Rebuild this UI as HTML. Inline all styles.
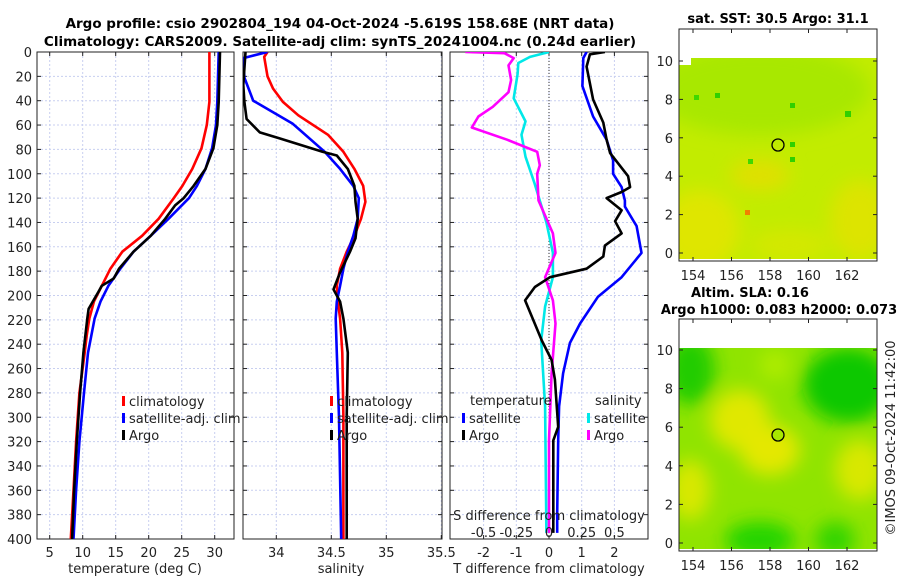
<!DOCTYPE html>
<html><head><meta charset="utf-8">
<style>
html,body{margin:0;padding:0;background:#fff;}
svg{display:block;font-family:"DejaVu Sans","Liberation Sans",sans-serif;}
</style></head>
<body>
<svg id="fig" width="900" height="580" viewBox="0 0 900 580" xmlns="http://www.w3.org/2000/svg">
<defs>
<filter id="blur1" x="-50%" y="-50%" width="200%" height="200%"><feGaussianBlur stdDeviation="9"/></filter>
<clipPath id="clipm1"><rect x="679" y="58" width="198" height="201"/></clipPath>
<clipPath id="clipm2"><rect x="679" y="348" width="198" height="201"/></clipPath>
</defs>
<text x="340" y="28" text-anchor="middle" font-size="13.5" font-weight="bold">Argo profile: csio 2902804_194 04-Oct-2024 -5.619S 158.68E (NRT data)</text>
<text x="340" y="46" text-anchor="middle" font-size="13.5" font-weight="bold">Climatology: CARS2009. Satellite-adj clim: synTS_20241004.nc (0.24d earlier)</text>
<g id="p1"></g>
<g id="p2"></g>
<g id="p3"></g>

<!-- map 1 -->
<g>
<text x="778" y="23" text-anchor="middle" font-size="13" font-weight="bold">sat. SST: 30.5 Argo: 31.1</text>
<g clip-path="url(#clipm1)">
<rect x="679" y="58" width="198" height="201" fill="#c2ec00"/>
<g filter="url(#blur1)">
<ellipse cx="760" cy="90" rx="110" ry="45" fill="#a8e800"/>
<ellipse cx="700" cy="230" rx="40" ry="40" fill="#dfe600"/>
<ellipse cx="760" cy="175" rx="30" ry="15" fill="#e0e000"/>
<ellipse cx="860" cy="220" rx="30" ry="40" fill="#dde400"/>
<ellipse cx="790" cy="245" rx="40" ry="15" fill="#d4e800"/>
</g>
<rect x="679" y="58" width="12" height="7" fill="#fff"/>
<rect x="845" y="111" width="6" height="6" fill="#30d000"/>
<rect x="790" y="103" width="5" height="5" fill="#30d000"/>
<rect x="790" y="142" width="5" height="5" fill="#30d000"/>
<rect x="790" y="157" width="5" height="5" fill="#30d000"/>
<rect x="715" y="93" width="5" height="5" fill="#30d000"/>
<rect x="694" y="95" width="5" height="5" fill="#40d800"/>
<rect x="748" y="159" width="5" height="5" fill="#40d800"/>
<rect x="745" y="210" width="5" height="5" fill="#f08000"/>
</g>
<rect x="679" y="29" width="198" height="232" fill="none" stroke="#222" stroke-width="1"/>
<circle cx="778" cy="145" r="6" fill="none" stroke="#000" stroke-width="1.3"/>
<g id="m1ticks"></g>
</g>

<!-- map 2 -->
<g>
<text x="750" y="297" text-anchor="middle" font-size="13" font-weight="bold">Altim. SLA: 0.16</text>
<text x="779" y="314" text-anchor="middle" font-size="13" font-weight="bold">Argo h1000: 0.083 h2000: 0.073</text>
<g clip-path="url(#clipm2)">
<rect x="679" y="348" width="198" height="201" fill="#90e400"/>
<g filter="url(#blur1)">
<ellipse cx="848" cy="385" rx="45" ry="38" fill="#10c800"/>
<ellipse cx="690" cy="370" rx="25" ry="35" fill="#20cc00"/>
<ellipse cx="760" cy="540" rx="35" ry="18" fill="#20d400"/>
<ellipse cx="835" cy="540" rx="20" ry="18" fill="#30d400"/>
<ellipse cx="740" cy="420" rx="30" ry="30" fill="#e0e800"/>
<ellipse cx="770" cy="450" rx="30" ry="25" fill="#e4e800"/>
<ellipse cx="860" cy="470" rx="25" ry="30" fill="#d8e800"/>
<ellipse cx="690" cy="490" rx="20" ry="30" fill="#d8e800"/>
<ellipse cx="775" cy="365" rx="15" ry="15" fill="#b0ec00"/>
</g>
</g>
<rect x="679" y="319" width="198" height="232" fill="none" stroke="#222" stroke-width="1"/>
<circle cx="778" cy="435" r="6" fill="#a8e800" stroke="#000" stroke-width="1.3"/>
<g id="m2ticks"></g>
</g>
<text transform="translate(895,438) rotate(-90)" text-anchor="middle" font-size="13" fill="#222">©IMOS 09-Oct-2024 11:42:00</text>
</svg>
<script>
// ---------- data ----------
const climTDepth = [0,41,60,79,96,110,120,137,151,164,178,192,205,219,233,247,280,320,360,400];
const tempClim   = [29.2,29.2,28.8,28.0,26.6,25.1,23.8,21.5,19.0,16.0,14.2,12.9,11.7,11.0,10.6,10.3,9.5,9.0,8.6,8.2];
const satTDepth  = [0,41,60,79,96,110,120,137,151,164,178,192,205,219,233,247,280,320,360,400];
const tempSat    = [30.6,30.4,30.2,29.6,28.6,27.3,26.1,23.0,20.3,17.7,15.7,13.9,12.7,11.8,11.3,10.8,10.2,9.5,9.0,8.6];
const argoTDepth = [0,41,60,79,96,110,120,126,137,151,164,178,186,192,197,211,219,247,280,320,360,400];
const argoTemp   = [30.8,30.6,30.4,29.8,28.6,26.8,25.3,24.0,22.5,20.3,17.7,15.5,14.7,12.9,12.4,10.9,10.7,10.1,9.6,9.1,8.7,8.4];

const climSDepth = [0,4,20,30,41,52,68,82,96,110,123,137,151,164,178,192,205,219,247,300,400];
const salClim    = [33.92,33.89,33.92,33.97,34.06,34.20,34.47,34.61,34.71,34.79,34.81,34.77,34.71,34.64,34.58,34.55,34.56,34.58,34.60,34.61,34.61];
const satSDepth  = [0,5,21,40,59,82,96,110,120,137,151,164,178,192,205,219,247,300,400];
const salSat     = [33.92,33.70,33.71,33.79,34.15,34.44,34.58,34.70,34.75,34.74,34.70,34.65,34.61,34.58,34.55,34.54,34.55,34.57,34.59];
const argoSDepth = [0,27,41,55,66,71,82,85,96,110,123,137,153,164,181,195,205,219,247,300,400];
const argoSal    = [33.72,33.70,33.71,33.73,33.85,34.03,34.42,34.55,34.65,34.71,34.72,34.74,34.72,34.67,34.58,34.52,34.58,34.61,34.65,34.64,34.64];

const dTSatDepth = [0,5,28,53,72,89,100,111,122,127,143,165,185,201,223,239,264,291,319,379,395];
const dTSat      = [1.15,1.05,1.02,1.35,1.76,1.96,1.96,2.22,2.32,2.32,2.68,2.83,2.22,1.5,0.95,0.64,0.43,0.31,0.28,0.25,0.25];
const dTArgoDepth = [0,2,12,39,58,72,83,102,111,115,120,130,139,149,159,168,178,185,193,204,237,253,269,308,319,395];
const dTArgo      = [1.71,1.25,1.15,1.35,1.66,1.76,1.87,2.42,2.48,2.22,1.76,2.22,2.02,2.22,1.71,1.66,1.15,0.03,-0.43,-0.73,-0.22,0.08,0.18,0.28,0.13,0.13];
const dSSatDepth = [0,4,9,18,38,57,68,86,108,140,165,185,209,237,291,395];
const dSSat      = [0.0,-0.145,-0.235,-0.24,-0.27,-0.18,-0.21,-0.18,-0.11,-0.02,0.03,0.03,-0.03,-0.06,-0.03,-0.02];
const dSArgoDepth = [0,1,5,11,23,33,45,53,62,72,82,93,100,122,149,165,185,204,223,264,319,395];
const dSArgo      = [-0.64,-0.34,-0.27,-0.31,-0.29,-0.31,-0.43,-0.54,-0.59,-0.32,-0.09,-0.07,-0.09,-0.08,0.03,0.05,-0.03,0.03,0.05,0.02,0.0,0.0];

const depthTicks = [0,20,40,60,80,100,120,140,160,180,200,220,240,260,280,300,320,340,360,380,400];
const tempTicks = [5,10,15,20,25,30];
const salTicks = [34,34.5,35,35.5];
const salTickLabels = ["34","34.5","35","35.5"];
const dTTicks = [-2,-1,0,1,2];
const dSTicks = [-0.5,-0.25,0,0.25,0.5];
const dSTickLabels = ["-0.5","-0.25","0","0.25","0.5"];
const mapYTicks = [0,2,4,6,8,10];
const mapXTicks = [154,156,158,160,162];

// ---------- scales ----------
const TOP=52, BOT=539;
const yD = d => TOP + d*(BOT-TOP)/400;
const xT = t => 49.7 + (t-5)*6.6;
const xS = s => 276.3 + (s-34)*110;
const xdT = t => 549 + t*32.7;
const xdS = s => 549 + s*130.8;
const mapX = lon => 693 + (lon-154)*19.25;
const m1Y = v => 253 - v*19.2;
const m2Y = v => 543 - v*19.3;

const NS="http://www.w3.org/2000/svg";
function mk(tag, attrs, parent){
  const e=document.createElementNS(NS,tag);
  for(const k in attrs) e.setAttribute(k,attrs[k]);
  parent.appendChild(e); return e;
}
function txt(parent, x, y, s, anchor, size){
  const t=mk('text',{x:x,y:y,'text-anchor':anchor||'middle','font-size':size||13,fill:'#222'},parent);
  t.textContent=s; return t;
}

function panel(g, L, R, xTickVals, xfun, yLabels){
  xTickVals.forEach(v=>{
    const l=mk('line',{x1:xfun(v),x2:xfun(v),y1:TOP,y2:BOT,stroke:'#c8cff0','stroke-width':1,'stroke-dasharray':'2,2'},g);
    
    
  });
  depthTicks.forEach(d=>{
    const l=mk('line',{x1:L,x2:R,y1:yD(d),y2:yD(d),stroke:'#c8cff0','stroke-width':1,'stroke-dasharray':'2,2'},g);
    
    
    mk('line',{x1:L,x2:L+4,y1:yD(d),y2:yD(d),stroke:'#222'},g);
    mk('line',{x1:R,x2:R-4,y1:yD(d),y2:yD(d),stroke:'#222'},g);
    if(yLabels){
      const t=txt(g,L-5,yD(d)+5,String(d),'end',13);
      
      
    }
  });
  xTickVals.forEach(v=>{
    mk('line',{x1:xfun(v),x2:xfun(v),y1:BOT,y2:BOT-4,stroke:'#222'},g);
    mk('line',{x1:xfun(v),x2:xfun(v),y1:TOP,y2:TOP+4,stroke:'#222'},g);
  });
  const b=mk('rect',{x:L,y:TOP,width:R-L,height:BOT-TOP,fill:'none',stroke:'#222','stroke-width':1},g);
  
  
}
function series(g, depths, vals, xfun, color, name, clip){
  const pts=depths.map((d,i)=>xfun(vals[i]).toFixed(1)+','+yD(d).toFixed(1)).join(' ');
  const p=mk('polyline',{points:pts,fill:'none',stroke:color,'stroke-width':2.6,'stroke-linejoin':'round'},g);
  if(clip) p.setAttribute('clip-path',clip);
  
  
}
function legendEntry(g,x,y,color,label,name){
  mk('rect',{x:x,y:y-9,width:3,height:10,fill:color},g);
  const t=txt(g,x+7,y+1,label,'start',13);
  
  
}

const svg=document.getElementById('fig');
const defs=svg.querySelector('defs');
[['c1',37,234],['c2',243,442],['c3',450,648]].forEach(c=>{
  const cp=mk('clipPath',{id:c[0]},defs);
  mk('rect',{x:c[1],y:TOP,width:c[2]-c[1],height:BOT-TOP},cp);
});

// panel 1
const p1=document.getElementById('p1');
panel(p1,37,234,tempTicks,xT,true);
series(p1,climTDepth,tempClim,xT,'#ff0000','climatology-temp-line','url(#c1)');
series(p1,satTDepth,tempSat,xT,'#0000ff','satellite-temp-line','url(#c1)');
series(p1,argoTDepth,argoTemp,xT,'#000000','argo-temp-line','url(#c1)');
tempTicks.forEach(v=>{
  const t=txt(p1,xT(v),557,String(v));
  
  
});
{const t=txt(p1,135,573,'temperature (deg C)');

}
legendEntry(p1,122,405,'#ff0000','climatology','legend-climatology');
legendEntry(p1,122,422,'#0000ff','satellite-adj. clim','legend-satellite');
legendEntry(p1,122,439,'#000000','Argo','legend-argo');

// panel 2
const p2=document.getElementById('p2');
panel(p2,243,442,salTicks,xS,false);
series(p2,climSDepth,salClim,xS,'#ff0000','climatology-salinity-line','url(#c2)');
series(p2,satSDepth,salSat,xS,'#0000ff','satellite-salinity-line','url(#c2)');
series(p2,argoSDepth,argoSal,xS,'#000000','argo-salinity-line','url(#c2)');
salTicks.forEach((v,i)=>{
  const t=txt(p2,xS(v),557,salTickLabels[i]);
  
  
});
{const t=txt(p2,341,573,'salinity');

}
legendEntry(p2,330,405,'#ff0000','climatology','legend-climatology-2');
legendEntry(p2,330,422,'#0000ff','satellite-adj. clim','legend-satellite-2');
legendEntry(p2,330,439,'#000000','Argo','legend-argo-2');

// panel 3
const p3=document.getElementById('p3');
panel(p3,450,648,dTTicks,xdT,false);
{const z=mk('line',{x1:xdT(0),x2:xdT(0),y1:TOP,y2:BOT,stroke:'#333','stroke-width':1,'stroke-dasharray':'1,2'},p3);

}
series(p3,dSSatDepth,dSSat,xdS,'#00e8e8','satellite-salinity-diff-line','url(#c3)');
series(p3,dSArgoDepth,dSArgo,xdS,'#ff00ff','argo-salinity-diff-line','url(#c3)');
series(p3,dTSatDepth,dTSat,xdT,'#0000ff','satellite-temp-diff-line','url(#c3)');
series(p3,dTArgoDepth,dTArgo,xdT,'#000000','argo-temp-diff-line','url(#c3)');
dTTicks.forEach(v=>{
  const t=txt(p3,xdT(v),557,String(v));
  
  
});
dSTicks.forEach((v,i)=>{
  const t=txt(p3,xdS(v),537,dSTickLabels[i]);
  
  
});
{const t=txt(p3,549,520,'S difference from climatology');

}
{const t=txt(p3,549,573,'T difference from climatology');

}
{const t=txt(p3,470,405,'temperature','start');

}
{const t=txt(p3,595,405,'salinity','start');

}
legendEntry(p3,462,422,'#0000ff','satellite','legend-temp-satellite');
legendEntry(p3,462,439,'#000000','Argo','legend-temp-argo');
legendEntry(p3,587,422,'#00e8e8','satellite','legend-sal-satellite');
legendEntry(p3,587,439,'#ff00ff','Argo','legend-sal-argo');

// map ticks
function mapTicks(g, yfun, top, bot, labelY){
  mapYTicks.forEach(v=>{
    mk('line',{x1:679,x2:683,y1:yfun(v),y2:yfun(v),stroke:'#222'},g);
    mk('line',{x1:877,x2:873,y1:yfun(v),y2:yfun(v),stroke:'#222'},g);
    const t=txt(g,673,yfun(v)+5,String(v),'end',13);
    
    
  });
  mapXTicks.forEach(v=>{
    mk('line',{x1:mapX(v),x2:mapX(v),y1:bot,y2:bot-4,stroke:'#222'},g);
    mk('line',{x1:mapX(v),x2:mapX(v),y1:top,y2:top+4,stroke:'#222'},g);
    const t=txt(g,mapX(v),labelY,String(v),'middle',13);
    
    
  });
}
mapTicks(document.getElementById('m1ticks'),m1Y,29,261,280);
mapTicks(document.getElementById('m2ticks'),m2Y,319,551,570);
</script>
</body></html>
